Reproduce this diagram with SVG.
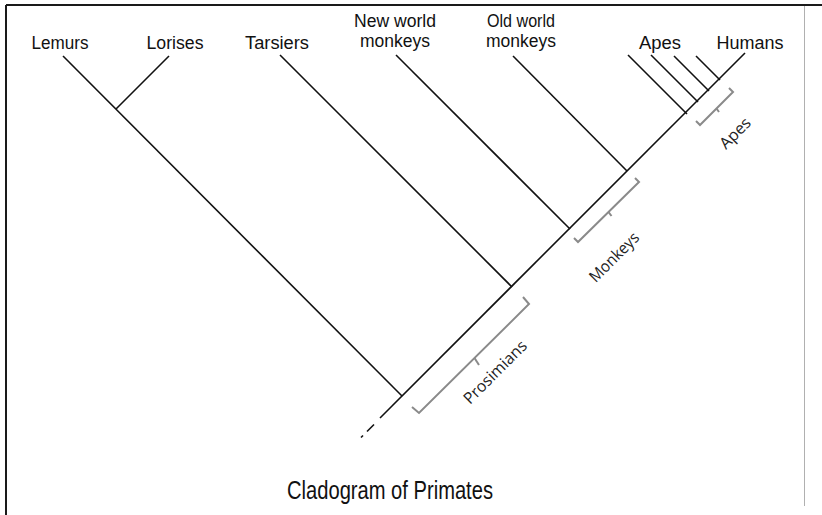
<svg xmlns="http://www.w3.org/2000/svg" width="822" height="515" viewBox="0 0 822 515">
<style>
.frame{stroke:#1a1a1a;stroke-width:2;fill:none}
.branch{stroke:#111;stroke-width:1.6;fill:none;stroke-linecap:butt}
.bracket{stroke:#8a8a8a;stroke-width:2;fill:none;stroke-linejoin:miter}
.lbl{font-family:"Liberation Sans",Arial,sans-serif;font-size:17.5px;fill:#111;text-anchor:middle}
.grp{font-family:"Open Sans","Noto Sans",sans-serif;font-size:16px;fill:#222;text-anchor:middle}
.title{font-family:"Liberation Sans",Arial,sans-serif;font-size:25px;fill:#111;text-anchor:middle}
</style>
<rect width="822" height="515" fill="#fff"/>
<g id="frame">
<line class="frame" x1="6" y1="5" x2="822" y2="5"/>
<line class="frame" x1="6" y1="5" x2="6" y2="515"/>
<line x1="804.5" y1="6" x2="804.5" y2="506" stroke="#b0b0b0" stroke-width="1"/>
</g>
<g id="connectors">
<line class="branch" x1="380" y1="418" x2="745" y2="53"/>
<line class="branch" x1="374" y1="424.5" x2="367" y2="431.5"/>
<line class="branch" x1="363" y1="435.5" x2="361" y2="437.5"/>
<line class="branch" x1="63" y1="56" x2="402" y2="396"/>
<line class="branch" x1="169" y1="56" x2="116" y2="109"/>
<line class="branch" x1="280" y1="55" x2="512" y2="287"/>
<line class="branch" x1="396" y1="55" x2="570" y2="229"/>
<line class="branch" x1="513" y1="56" x2="627" y2="171"/>
<line class="branch" x1="628" y1="55" x2="687" y2="114"/>
<line class="branch" x1="651" y1="55" x2="698" y2="102"/>
<line class="branch" x1="674" y1="56" x2="709" y2="91"/>
<line class="branch" x1="696" y1="56" x2="720" y2="80"/>
</g>
<g id="bracket-prosimians">
<polyline class="bracket" points="412,407 419,413 529,304 523,297"/>
<line class="bracket" x1="474.5" y1="358" x2="479" y2="365"/>
<text class="grp" transform="translate(499,376) rotate(-45)" textLength="82" lengthAdjust="spacingAndGlyphs">Prosimians</text>
</g>
<g id="bracket-monkeys">
<polyline class="bracket" points="574,238 578,242 639,182 635,178"/>
<line class="bracket" x1="608.5" y1="212" x2="611.5" y2="216"/>
<text class="grp" transform="translate(618,261) rotate(-45)" textLength="63" lengthAdjust="spacingAndGlyphs">Monkeys</text>
</g>
<g id="bracket-apes">
<polyline class="bracket" points="696,121 700,125 733,92 729,88"/>
<line class="bracket" x1="716.5" y1="108.5" x2="719" y2="112"/>
<text class="grp" transform="translate(739,137) rotate(-45)" textLength="37" lengthAdjust="spacingAndGlyphs">Apes</text>
</g>
<g id="node-lemurs"><text class="lbl" x="60" y="49" textLength="57" lengthAdjust="spacingAndGlyphs">Lemurs</text></g>
<g id="node-lorises"><text class="lbl" x="175" y="49" textLength="57" lengthAdjust="spacingAndGlyphs">Lorises</text></g>
<g id="node-tarsiers"><text class="lbl" x="277" y="49" textLength="64" lengthAdjust="spacingAndGlyphs">Tarsiers</text></g>
<g id="node-new-world"><text class="lbl" x="395" y="27" textLength="82" lengthAdjust="spacingAndGlyphs">New world</text><text class="lbl" x="395" y="47" textLength="70" lengthAdjust="spacingAndGlyphs">monkeys</text></g>
<g id="node-old-world"><text class="lbl" x="521" y="27" textLength="68" lengthAdjust="spacingAndGlyphs">Old world</text><text class="lbl" x="521" y="47" textLength="70" lengthAdjust="spacingAndGlyphs">monkeys</text></g>
<g id="node-apes"><text class="lbl" x="660" y="49" textLength="42" lengthAdjust="spacingAndGlyphs">Apes</text></g>
<g id="node-humans"><text class="lbl" x="750" y="49" textLength="67" lengthAdjust="spacingAndGlyphs">Humans</text></g>
<g id="title"><text class="title" x="390" y="499" textLength="206" lengthAdjust="spacingAndGlyphs">Cladogram of Primates</text></g>
</svg>
